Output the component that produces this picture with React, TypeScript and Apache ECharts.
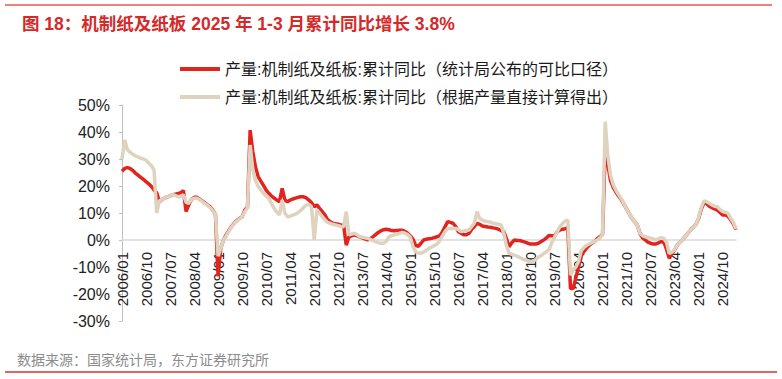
import React, { useEffect, useRef } from 'react';
import * as echarts from 'echarts';

const TITLE = '图 18：机制纸及纸板 2025 年 1-3 月累计同比增长 3.8%';
const SOURCE = '数据来源：国家统计局，东方证券研究所';
const NAME_RED = '产量:机制纸及纸板:累计同比（统计局公布的可比口径）';
const NAME_BEIGE = '产量:机制纸及纸板:累计同比（根据产量直接计算得出）';

// monthly categories 2006/01 .. 2025/03
const months: string[] = [];
for (let y = 2006; y <= 2025; y++) {
  for (let m = 1; m <= 12; m++) {
    if (y === 2025 && m > 3) break;
    months.push(`${y}/${m < 10 ? '0' + m : m}`);
  }
}

// 统计局公布的可比口径 (%), one row per year
const redValues: number[] = [
  25.5, 26.5, 26.8, 26.5, 25.8, 24.8, 24.0, 23.2, 22.5, 21.6, 20.8, 19.8, // 2006
  18.5, 17.5, 14.2, 15.0, 15.5, 16.0, 16.3, 16.8, 17.0, 17.2, 17.5, 18.3, // 2007
  10.5, 13.0, 15.0, 15.8, 15.8, 15.2, 14.5, 13.8, 13.0, 12.3, 11.0, 9.5, // 2008
  -13.5, -3.0, 0.0, 1.9, 3.5, 5.0, 6.2, 7.2, 8.0, 8.6, 11.1, 12.1, // 2009
  40.7, 32.7, 27.0, 23.5, 21.8, 20.2, 18.5, 17.3, 16.3, 15.5, 14.8, 14.2, // 2010
  19.1, 14.8, 14.2, 14.8, 15.2, 15.5, 15.8, 16.0, 16.0, 15.6, 14.8, 13.8, // 2011
  12.3, 13.0, 11.7, 10.5, 9.3, 7.5, 6.8, 6.2, 6.0, 5.8, 5.6, 5.5, // 2012
  -1.9, 1.2, 1.5, 1.9, 1.5, 1.2, 0.8, 0.4, 0.0, 0.4, 1.2, 2.0, // 2013
  2.8, 3.4, 3.8, 4.0, 3.8, 3.5, 3.4, 3.5, 3.6, 3.6, 3.2, 2.5, // 2014
  1.5, 0.3, -2.0, -2.3, -1.2, 0.0, 0.3, 0.5, 0.6, 0.9, 1.2, 1.5, // 2015
  3.0, 4.9, 6.8, 6.5, 6.2, 5.0, 3.1, 2.5, 1.9, 1.9, 2.5, 4.0, // 2016
  5.0, 6.2, 5.8, 5.2, 5.0, 4.8, 4.7, 4.5, 4.3, 4.0, 3.5, 3.1, // 2017
  0.5, -2.5, -1.0, 0.0, -0.2, -0.2, -0.5, -0.8, -1.2, -1.5, -1.5, -1.5, // 2018
  -1.2, -0.6, 0.0, 0.8, 1.7, 1.6, 1.5, 3.0, 3.7, 4.0, 4.2, 4.5, // 2019
  -18.0, -18.0, -14.0, -10.0, -6.0, -4.3, -3.0, -2.0, -1.2, -0.6, 0.5, 1.2, // 2020
  2.0, 33.0, 28.0, 22.0, 19.5, 17.8, 16.3, 15.0, 13.3, 11.5, 9.8, 8.0, // 2021
  6.8, 5.6, 2.5, 0.8, 0.0, -0.8, -1.2, -1.5, -1.5, -1.0, -0.6, -0.8, // 2022
  -3.5, -6.8, -5.0, -3.7, -1.9, -0.8, 0.2, 1.3, 2.5, 3.7, 4.8, 5.8, // 2023
  8.0, 11.5, 13.8, 13.5, 12.5, 12.0, 11.5, 11.1, 10.2, 9.3, 9.3, 8.8, // 2024
  7.5, 6.0, 3.8, // 2025
];

// 根据产量直接计算得出 (%)
const beigeValues: number[] = [
  30.0, 37.0, 33.5, 32.5, 31.8, 31.2, 30.8, 30.3, 30.0, 29.6, 28.5, 27.5, // 2006
  26.0, 10.0, 14.5, 15.0, 15.5, 16.0, 16.3, 16.8, 16.5, 16.0, 16.2, 16.7, // 2007
  14.0, 13.5, 15.0, 15.5, 15.5, 15.0, 14.3, 13.5, 12.8, 12.0, 10.8, 9.5, // 2008
  -6.0, -3.0, 0.0, 1.5, 3.2, 4.8, 6.0, 7.0, 7.8, 8.6, 10.5, 12.0, // 2009
  35.2, 26.0, 22.0, 19.8, 18.5, 17.3, 16.3, 15.4, 13.5, 11.7, 10.3, 9.3, // 2010
  14.8, 10.0, 8.6, 8.8, 9.2, 9.6, 10.2, 11.0, 12.0, 13.0, 13.2, 12.3, // 2011
  0.0, 11.1, 10.0, 8.6, 7.5, 6.5, 6.2, 5.8, 5.6, 5.3, 5.0, 4.9, // 2012
  10.5, 1.9, 2.2, 2.5, 2.0, 1.2, 1.0, 0.8, 0.6, 0.2, -0.2, -0.6, // 2013
  -1.0, -1.2, -1.2, -0.5, 1.2, 1.6, 1.9, 2.2, 2.5, 2.8, 2.5, 2.0, // 2014
  1.0, -2.5, -4.3, -4.8, -4.9, -4.5, -3.8, -3.1, -2.6, -2.1, -1.5, -0.3, // 2015
  1.5, 3.1, 4.3, 4.3, 4.3, 4.3, 3.8, 3.1, 3.3, 3.5, 3.7, 5.0, // 2016
  6.2, 10.5, 8.0, 7.4, 7.0, 6.8, 6.6, 6.2, 6.0, 5.8, 5.6, 2.5, // 2017
  -2.0, -4.9, -5.3, -5.6, -6.0, -6.5, -7.0, -7.4, -7.7, -8.0, -7.8, -7.2, // 2018
  -6.3, -5.8, -5.0, -4.3, -3.5, -1.0, 1.0, 3.0, 4.9, 6.0, 7.0, 7.4, // 2019
  -13.0, -11.0, -10.0, -8.0, -4.0, -2.8, -2.0, -1.5, -1.0, -0.5, 0.0, 0.8, // 2020
  2.0, 43.8, 31.0, 24.0, 20.5, 18.5, 16.8, 15.3, 13.5, 11.5, 9.8, 8.0, // 2021
  6.8, 5.6, 2.5, 1.6, 1.2, 1.0, 0.7, 0.4, 0.0, 0.5, 0.9, 0.6, // 2022
  -1.0, -5.0, -4.5, -3.5, -1.9, -0.8, 0.2, 1.3, 2.5, 3.7, 4.8, 5.8, // 2023
  8.3, 12.0, 14.5, 14.2, 13.6, 13.0, 12.5, 12.3, 11.3, 10.5, 10.3, 9.9, // 2024
  8.0, 6.5, 4.0, // 2025
];

const Y_MIN = -30;
const Y_MAX = 50;
const Y_STEP = 10;

const GRID_TOP = 105;
const GRID_BOTTOM = 58;
const CHART_H = 379;
// place the category axis (line + labels) on the 0% level
const PLOT_H = CHART_H - GRID_TOP - GRID_BOTTOM;
const ZERO_OFFSET = -(PLOT_H * (0 - Y_MIN)) / (Y_MAX - Y_MIN);

const RED = '#E3231D';
const BEIGE = '#DDD3BE';
const FONT = '"Liberation Sans", Arial, "Noto Sans CJK SC", sans-serif';

export default function App() {
  const ref = useRef<HTMLDivElement>(null);
  useEffect(() => {
    document.body.style.margin = '0';
    if (!ref.current) return;
    const chart = echarts.init(ref.current, undefined, { renderer: 'svg' });
    chart.setOption({
      animation: false,
      backgroundColor: '#ffffff',
      title: {
        text: TITLE,
        left: 17,
        top: 10,
        textStyle: { color: '#D42A2A', fontSize: 17.5, fontWeight: 'bold', fontFamily: FONT },
      },
      legend: {
        orient: 'vertical',
        left: 175,
        top: 56,
        icon: 'rect',
        itemWidth: 40,
        itemHeight: 4,
        itemGap: 12,
        textStyle: { fontSize: 16, color: '#1a1a1a', fontFamily: FONT },
        data: [NAME_RED, NAME_BEIGE],
      },
      grid: { left: 122, right: 46, top: GRID_TOP, bottom: GRID_BOTTOM, containLabel: false, outerBoundsMode: 'none' },
      xAxis: {
        type: 'category',
        data: months,
        boundaryGap: false,
        position: 'bottom',
        offset: ZERO_OFFSET,
        axisLine: { onZero: false, lineStyle: { color: '#d9d9d9', width: 1.5 } },
        axisTick: { show: false },
        axisLabel: { interval: 8, rotate: 90, fontSize: 15, color: '#222', margin: 12, fontFamily: FONT },
        splitLine: { show: false },
      },
      yAxis: {
        type: 'value',
        min: Y_MIN,
        max: Y_MAX,
        interval: Y_STEP,
        axisLine: { show: true, lineStyle: { color: '#bfbfbf' } },
        axisTick: { show: true, length: 3, lineStyle: { color: '#bfbfbf' } },
        axisLabel: { formatter: '{value}%', fontSize: 16, color: '#222', margin: 12, fontFamily: FONT },
        splitLine: { show: false },
      },
      series: [
        {
          name: NAME_RED,
          type: 'line',
          data: redValues,
          symbol: 'none',
          lineStyle: { width: 3.5, color: RED },
          itemStyle: { color: RED },
        },
        {
          name: NAME_BEIGE,
          type: 'line',
          data: beigeValues,
          symbol: 'none',
          lineStyle: { width: 3.5, color: BEIGE },
          itemStyle: { color: BEIGE },
        },
      ],
      graphic: [
        { type: 'line', shape: { x1: 5, y1: 5, x2: 772, y2: 5 }, style: { stroke: '#EF8080', lineWidth: 2 } },
        { type: 'line', shape: { x1: 5, y1: 372, x2: 777, y2: 372 }, style: { stroke: '#D9332B', lineWidth: 1.5 } },
        {
          type: 'text',
          left: 17,
          top: 353,
          style: { text: SOURCE, fill: '#8c8c8c', fontSize: 14, fontFamily: FONT },
        },
      ],
    });
    return () => chart.dispose();
  }, []);
  return <div ref={ref} style={{ width: 782, height: CHART_H }} />;
}
